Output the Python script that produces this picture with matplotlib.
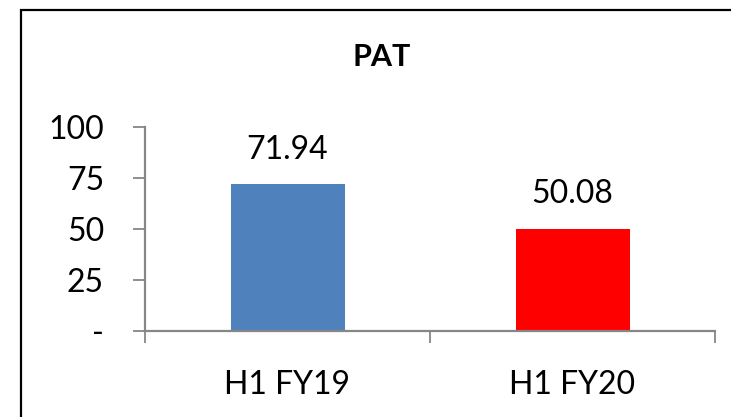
import numpy as np
import matplotlib
matplotlib.use('Agg')
import matplotlib.pyplot as plt
from matplotlib.patches import Rectangle

categories = ['H1 FY19', 'H1 FY20']
pat_values = [71.94, 50.08]
bar_colors = ['#4F81BD', '#FF0000']
yticks = [0, 25, 50, 75, 100]
ytick_labels = ['-', '25', '50', '75', '100']

plt.rcParams['font.family'] = ['Lato', 'DejaVu Sans']

W, H = 731, 417
fig = plt.figure(figsize=(W / 100, H / 100), dpi=100)
ax = fig.add_axes([145 / W, (H - 330.7) / H, (715 - 145) / W, (330.7 - 127.3) / H])

x = np.arange(len(categories))
ax.bar(x, pat_values, width=0.4, color=bar_colors, zorder=2)

for xi, v in zip(x, pat_values):
    ax.annotate(f'{v:.2f}', (xi, v), xytext=(0, 14), textcoords='offset points',
                ha='center', va='bottom', fontsize=23)

ax.set_xlim(-0.5, 1.5)
ax.set_ylim(0, 100)
ax.set_yticks(yticks)
ax.set_yticklabels(ytick_labels, fontsize=23)
ax.set_xticks(x)
ax.set_xticklabels(categories, fontsize=23)
ax.set_xticks([-0.5, 0.5, 1.5], minor=True)

gray = '#868686'
for s in ['top', 'right']:
    ax.spines[s].set_visible(False)
for s in ['left', 'bottom']:
    ax.spines[s].set_color(gray)
    ax.spines[s].set_linewidth(1.6)
ax.tick_params(axis='y', length=8.5, width=1.3, color=gray, pad=21)
ax.tick_params(axis='x', which='major', length=0, pad=28)
ax.tick_params(axis='x', which='minor', length=8.5, width=1.3, color=gray)

fig.text(382 / W, 1 - 57 / H, 'PAT', ha='center', va='center',
         fontsize=22, fontweight='bold')

fig.patches.append(Rectangle((20.5 / W, -0.1), 1.2, (H - 10) / H + 0.1,
                             transform=fig.transFigure, fill=False,
                             edgecolor='black', linewidth=1.6, clip_on=False))

fig.savefig('out.png', dpi=100)
